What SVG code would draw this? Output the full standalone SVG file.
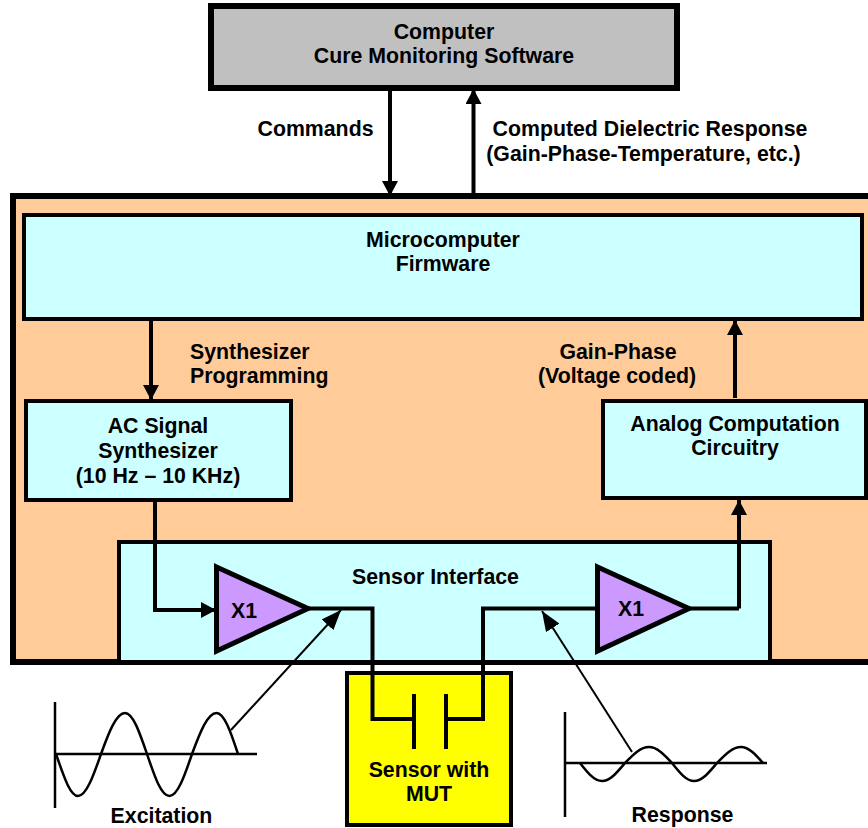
<svg xmlns="http://www.w3.org/2000/svg" width="868" height="828" viewBox="0 0 868 828">
<style>
text{font-family:"Liberation Sans",Arial,sans-serif;font-weight:bold;font-size:21.3px;fill:#000;text-anchor:middle}
.box{stroke:#000;stroke-width:4}
.wire{fill:none;stroke:#000;stroke-width:4}
.thin{fill:none;stroke:#000;stroke-width:2}
.axis{fill:none;stroke:#000;stroke-width:2.500}
.wave{fill:none;stroke:#000;stroke-width:2.500}
.cy{fill:#CCFFFF}
.amp{fill:#CC99FF;stroke:#000;stroke-width:5}
</style>
<defs>
<marker id="head" markerUnits="userSpaceOnUse" markerWidth="16" markerHeight="16" refX="15" refY="8" orient="auto"><path d="M0 0L15 8L0 16Z" fill="#000"/></marker>
<marker id="headThin" markerUnits="userSpaceOnUse" markerWidth="21" markerHeight="16" refX="20" refY="8" orient="auto"><path d="M0 0L20 8L0 16Z" fill="#000"/></marker>
</defs>
<g id="control-unit"><rect x="13" y="196" width="870" height="466" fill="#FFCC99" stroke="#000" stroke-width="6"/></g>
<g id="computer"><rect x="211" y="6" width="466" height="82" fill="#C0C0C0" stroke="#000" stroke-width="6"/>
<text x="444" y="39">Computer</text><text x="444" y="63">Cure Monitoring Software</text></g>
<g id="microcomputer"><rect class="box cy" x="24" y="215" width="838" height="104"/>
<text x="443" y="247">Microcomputer</text><text x="443" y="271">Firmware</text></g>
<g id="synthesizer"><rect class="box cy" x="26" y="401" width="265" height="99"/>
<text x="158" y="433">AC Signal</text><text x="158" y="458">Synthesizer</text><text x="158" y="483">(10 Hz – 10 KHz)</text></g>
<g id="analog"><rect class="box cy" x="603" y="401" width="263" height="97"/>
<text x="735" y="431">Analog Computation</text><text x="735" y="455">Circuitry</text></g>
<g id="sensor-interface"><rect class="box cy" x="119" y="542" width="651" height="120"/>
<text x="435.500" y="584">Sensor Interface</text></g>
<g id="sensor"><rect x="347" y="673" width="164" height="152" fill="#FFFF00" stroke="#000" stroke-width="4"/>
<text x="429" y="777">Sensor with</text><text x="429" y="801">MUT</text></g>
<g id="amp-1"><path class="amp" d="M216.500 567L308 608.500L216.500 651Z"/><text x="244" y="618">X1</text></g>
<g id="amp-2"><path class="amp" d="M597.500 567L689 608.500L597.500 651Z"/><text x="631" y="616">X1</text></g>
<g id="connectors">
<path class="wire" marker-end="url(#head)" d="M390 90V196"/>
<path class="wire" marker-end="url(#head)" d="M473.500 195V89"/>
<path class="wire" marker-end="url(#head)" d="M151 321V400"/>
<path class="wire" marker-end="url(#head)" d="M735 398V320"/>
<path class="wire" marker-end="url(#head)" d="M155 501V610H216"/>
<path class="wire" marker-end="url(#head)" d="M739 608.500V500"/>
<path class="wire" d="M689 608.500H739"/>
<path class="wire" d="M309 608.500H372.500V719H414"/>
<path class="wire" d="M597 608.500H483V719H446"/>
<path class="wire" d="M414 694V749M446 694V749"/>
<path class="thin" marker-end="url(#headThin)" d="M231 730L341 610"/>
<path class="thin" marker-end="url(#headThin)" d="M632 752L542 611"/>
</g>
<g id="excitation">
<path class="axis" d="M55 702V808M55 754H257"/>
<path class="wave" d="M56 754C63.500 775.500 70 796 78 796C86.300 796 93.500 775.500 101 754C108.800 732.500 116.300 713 125 713C133 713 139.600 732.500 147 754C154.300 775.500 161 796 169.500 796C177.600 796 184.700 775.500 192 754C200 732.500 207.600 713 216.500 713C224.300 713 231 732.500 238 754"/>
<text x="161.500" y="823">Excitation</text></g>
<g id="response">
<path class="axis" d="M565 712V817M565 763H767"/>
<path class="wave" d="M580 763C587 772 594 781 602 781C610.300 781 617.500 772 625 763C632.800 755 640.300 747 649 747C657.300 747 664.500 755 672 763C679.200 772 686 781 694 781C702.300 781 709.500 772 717 763C724.800 755 732.300 747 741 747C749 747 756 755 763 763"/>
<text x="682.500" y="822">Response</text></g>
<g id="labels">
<text x="315.500" y="136">Commands</text>
<text x="650" y="136">Computed Dielectric Response</text>
<text x="643.500" y="161">(Gain-Phase-Temperature, etc.)</text>
<text x="190" y="359" style="text-anchor:start">Synthesizer</text><text x="190" y="383" style="text-anchor:start">Programming</text>
<text x="618" y="359">Gain-Phase</text><text x="617" y="383">(Voltage coded)</text>
</g>
</svg>
